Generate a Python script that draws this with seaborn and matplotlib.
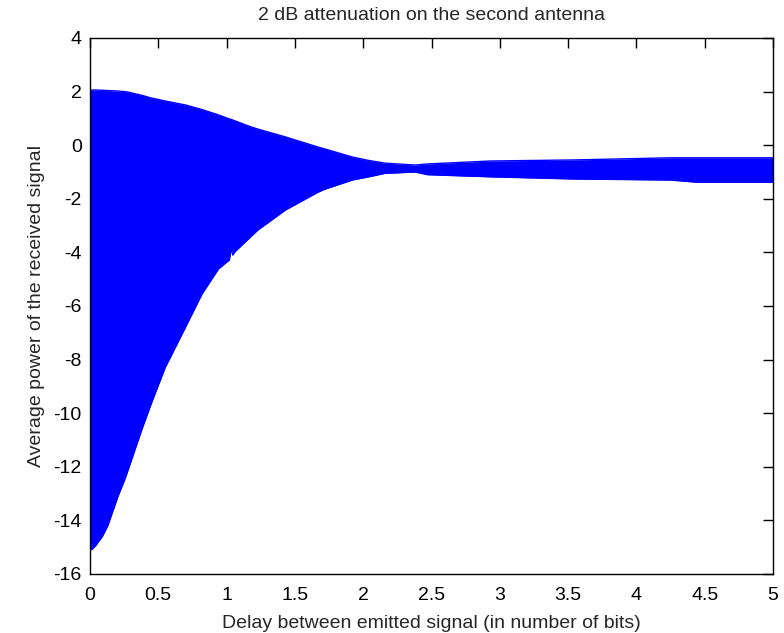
import matplotlib
matplotlib.use("Agg")
import matplotlib.pyplot as plt
import seaborn as sns
import pandas as pd

# Envelope of the (rapidly oscillating) received-power trace
delay = [0, 0.015, 0.04, 0.09, 0.13, 0.205, 0.256, 0.28, 0.38, 0.45, 0.55, 0.70, 0.82, 0.94,
         1.02, 1.035, 1.045, 1.06, 1.18, 1.23, 1.43, 1.67, 1.72, 1.92, 2.03, 2.16, 2.38, 2.47,
         2.93, 3.54, 4.25, 4.44, 5.0]
upper = [2.06, 2.06, 2.06, 2.05, 2.04, 2.02, 2.0, 1.98, 1.86, 1.76, 1.65, 1.5, 1.33, 1.13,
         0.98, 0.96, 0.94, 0.91, 0.68, 0.6, 0.31, -0.07, -0.14, -0.44, -0.56, -0.67, -0.74, -0.70,
         -0.59, -0.55, -0.47, -0.47, -0.47]
lower = [-15.1, -15.08, -14.95, -14.6, -14.2, -13.1, -12.45, -12.1, -10.6, -9.62, -8.3, -6.78, -5.55, -4.62,
         -4.28, -3.84, -4.1, -3.98, -3.4, -3.16, -2.42, -1.75, -1.64, -1.3, -1.19, -1.05, -1.0, -1.1,
         -1.18, -1.26, -1.3, -1.38, -1.38]

xticks = [0, 0.5, 1, 1.5, 2, 2.5, 3, 3.5, 4, 4.5, 5]
xticklabels = ["0", "0.5", "1", "1.5", "2", "2.5", "3", "3.5", "4", "4.5", "5"]
yticks = [-16, -14, -12, -10, -8, -6, -4, -2, 0, 2, 4]
yticklabels = ["-16", "-14", "-12", "-10", "-8", "-6", "-4", "-2", "0", "2", "4"]

title = "2 dB attenuation on the second antenna"
xlabel = "Delay between emitted signal (in number of bits)"
ylabel = "Average power of the received signal"

sns.set_style("white")
plt.rcParams['font.family'] = ['Liberation Sans', 'DejaVu Sans']
plt.rcParams['axes.unicode_minus'] = False

df = pd.DataFrame({"delay": delay, "upper": upper, "lower": lower})

fig = plt.figure(figsize=(7.84, 6.33), dpi=100)
ax = fig.add_axes([90/784, 1 - 574/633, (773 - 90)/784, (574 - 38)/633])

blue = "#0000FF"
ax.fill_between(df["delay"], df["lower"], df["upper"], color=blue, linewidth=0)
sns.lineplot(data=df, x="delay", y="upper", ax=ax, color=blue, linewidth=1)
sns.lineplot(data=df, x="delay", y="lower", ax=ax, color=blue, linewidth=1)

ax.set_xlim(0, 5)
ax.set_ylim(-16, 4)
ax.set_xticks(xticks)
ax.set_xticklabels(xticklabels)
ax.set_yticks(yticks)
ax.set_yticklabels(yticklabels)
ax.tick_params(direction="in", length=7, width=1, top=True, right=True,
               labelsize=14, colors="black", pad=6)
ax.tick_params(axis="x", pad=9)
for s in ax.spines.values():
    s.set_color("black")
    s.set_linewidth(1)

ax.set_title(title, fontsize=14, pad=13)
ax.set_xlabel(xlabel, fontsize=14, labelpad=8)
ax.set_ylabel(ylabel, fontsize=14, labelpad=6)

fig.savefig("out.png", dpi=100)
